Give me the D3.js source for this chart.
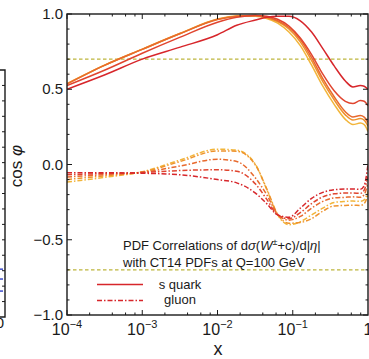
<!DOCTYPE html>
<html>
<head>
<meta charset="utf-8">
<script src="https://cdn.jsdelivr.net/npm/d3@7"></script>
<style>
  body { margin: 0; background: #fff; }
  svg { display: block; font-family: "Liberation Sans", Arial, Helvetica, sans-serif; }
</style>
</head>
<body>
<svg width="369" height="359"></svg>
<script>
// sample points in x (log spaced)
const xPoints = [1e-4, 3.2e-4, 1e-3, 3.2e-3, 1e-2, 1.8e-2, 3.2e-2, 4.5e-2, 6.3e-2, 8.9e-2,
                 0.126, 0.178, 0.251, 0.355, 0.5, 0.63, 0.79, 0.89, 1];

// s quark correlations (solid)
const sQuark1 = [0.50, 0.596, 0.70, 0.78, 0.862, 0.925, 0.96, 0.978, 0.985, 0.985, 0.955, 0.88, 0.77, 0.655, 0.555, 0.515, 0.525, 0.52, 0.50];
const sQuark2 = [0.525, 0.628, 0.739, 0.846, 0.945, 0.978, 0.99, 0.985, 0.965, 0.92, 0.84, 0.73, 0.60, 0.49, 0.42, 0.405, 0.425, 0.42, 0.39];
const sQuark3 = [0.535, 0.66, 0.765, 0.87, 0.963, 0.985, 0.99, 0.98, 0.955, 0.91, 0.83, 0.71, 0.57, 0.45, 0.35, 0.315, 0.325, 0.315, 0.28];
const sQuark4 = [0.535, 0.66, 0.765, 0.87, 0.965, 0.985, 0.99, 0.975, 0.95, 0.90, 0.815, 0.69, 0.55, 0.43, 0.33, 0.295, 0.305, 0.295, 0.255];
const sQuark5 = [0.538, 0.662, 0.767, 0.872, 0.967, 0.987, 0.985, 0.97, 0.94, 0.88, 0.79, 0.66, 0.52, 0.40, 0.30, 0.265, 0.275, 0.265, 0.22];

// gluon correlations (dot-dashed)
const gluon1 = [-0.055, -0.055, -0.058, -0.068, -0.10, -0.122, -0.19, -0.26, -0.335, -0.35, -0.29, -0.225, -0.185, -0.168, -0.163, -0.163, -0.165, -0.14, 0.0];
const gluon2 = [-0.068, -0.06, -0.053, -0.04, -0.035, -0.045, -0.13, -0.23, -0.335, -0.36, -0.32, -0.26, -0.215, -0.195, -0.19, -0.19, -0.192, -0.17, -0.07];
const gluon3 = [-0.083, -0.067, -0.052, -0.01, 0.035, 0.02, -0.09, -0.20, -0.33, -0.37, -0.345, -0.29, -0.245, -0.222, -0.218, -0.215, -0.218, -0.20, -0.12];
const gluon4 = [-0.10, -0.075, -0.05, 0.02, 0.09, 0.088, -0.005, -0.16, -0.33, -0.39, -0.385, -0.36, -0.31, -0.275, -0.272, -0.27, -0.272, -0.26, -0.20];
const gluon5 = [-0.117, -0.085, -0.048, 0.03, 0.102, 0.095, 0.0, -0.165, -0.335, -0.40, -0.38, -0.335, -0.29, -0.252, -0.245, -0.243, -0.245, -0.235, -0.18];

const seriesColors = ["#d7262b", "#e0452f", "#e86a2e", "#ee922c", "#f2b53a"];

const refLines = [0.7, -0.7];
const yTickValues = [-1, -0.5, 0, 0.5, 1];
const yTickLabels = ["\u22121.0", "\u22120.5", "0.0", "0.5", "1.0"];
const xTickValues = [1e-4, 1e-3, 1e-2, 1e-1, 1];
const xTickExps = ["\u22124", "\u22123", "\u22122", "\u22121", ""];

// neighbouring panel (cut off at the left edge)
const neighborTicks = d3.range(0, 17);
const neighborLevels = [3.1, 2.46, 1.68];

var svg = d3.select("svg");

var x = d3.scaleLog().domain([1e-4, 1]).range([67, 368]);
var y = d3.scaleLinear().domain([-1, 1]).range([315, 14]);

svg.append("clipPath").attr("id", "plotclip")
  .append("rect").attr("x", 67).attr("y", 14).attr("width", 301).attr("height", 301);

var plot = svg.append("g").attr("clip-path", "url(#plotclip)");

var line = d3.line()
    .x(function(d, i) { return x(xPoints[i]); })
    .y(function(d) { return y(d); })
    .curve(d3.curveMonotoneX);

// reference lines at +-0.7
plot.selectAll(".ref")
  .data(refLines)
  .join("line")
    .attr("x1", x(1e-4)).attr("x2", x(1))
    .attr("y1", d => y(d)).attr("y2", d => y(d))
    .attr("stroke", "#bdb53c")
    .attr("stroke-width", 1.2)
    .attr("stroke-dasharray", "3.5,2.5");

var gluons = [gluon1, gluon2, gluon3, gluon4, gluon5];
var quarks = [sQuark1, sQuark2, sQuark3, sQuark4, sQuark5];

// draw from yellow to red so red ends on top
for (let i = 4; i >= 0; i--) {
  plot.append("path")
    .attr("d", line(gluons[i]))
    .attr("fill", "none")
    .attr("stroke", seriesColors[i])
    .attr("stroke-width", 1.5)
    .attr("stroke-dasharray", "5,2,1.5,2");
}
for (let i = 4; i >= 0; i--) {
  plot.append("path")
    .attr("d", line(quarks[i]))
    .attr("fill", "none")
    .attr("stroke", seriesColors[i])
    .attr("stroke-width", 1.5);
}

// frame
svg.append("rect")
  .attr("x", 67).attr("y", 14).attr("width", 301).attr("height", 301)
  .attr("fill", "none").attr("stroke", "#1a1a1a").attr("stroke-width", 1.4);

// y ticks (left and right)
var yMinor = d3.range(-10, 11).map(d => d / 10);
var ticks = svg.append("g").attr("stroke", "#1a1a1a").attr("stroke-width", 1);
yMinor.forEach(function(v) {
  var len = (Math.abs(Math.round(v * 10)) % 5 === 0) ? 5 : 2.5;
  ticks.append("line").attr("x1", 67).attr("x2", 67 + len).attr("y1", y(v)).attr("y2", y(v));
  ticks.append("line").attr("x1", 368).attr("x2", 368 - len).attr("y1", y(v)).attr("y2", y(v));
});
// x ticks (bottom and top): decades plus 2,4,6,8
[1e-4, 1e-3, 1e-2, 1e-1].forEach(function(dec) {
  [1, 2, 4, 6, 8].forEach(function(k) {
    var len = k === 1 ? 5 : 2.5;
    var px = x(dec * k);
    ticks.append("line").attr("x1", px).attr("x2", px).attr("y1", 315).attr("y2", 315 - len);
    ticks.append("line").attr("x1", px).attr("x2", px).attr("y1", 14).attr("y2", 14 + len);
  });
});

// y tick labels
svg.selectAll(".ylab")
  .data(yTickValues)
  .join("text")
    .attr("x", 63)
    .attr("y", d => y(d) + 5)
    .attr("text-anchor", "end")
    .style("font-size", "15px")
    .attr("fill", "#1a1a1a")
    .text((d, i) => yTickLabels[i]);

// x tick labels with superscripts
xTickValues.forEach(function(v, i) {
  var t = svg.append("text")
    .attr("x", x(v))
    .attr("y", 335)
    .attr("text-anchor", "middle")
    .attr("fill", "#1a1a1a")
    .style("font-size", "16px");
  if (xTickExps[i] === "") {
    t.text("1");
  } else {
    t.append("tspan").text("10");
    t.append("tspan").attr("dy", -7).style("font-size", "11px").text(xTickExps[i]);
  }
});

// axis titles
svg.append("text")
  .attr("x", 218).attr("y", 355)
  .attr("text-anchor", "middle")
  .style("font-size", "18px")
  .attr("fill", "#1a1a1a")
  .text("x");

var ylab = svg.append("text")
  .attr("transform", "translate(22,166) rotate(-90)")
  .attr("text-anchor", "middle")
  .style("font-size", "17px")
  .attr("fill", "#1a1a1a");
ylab.append("tspan").text("cos ");
ylab.append("tspan").style("font-style", "italic").text("\u03c6");

// legend
var leg1 = svg.append("text").attr("x", 123).attr("y", 250).style("font-size", "13px").attr("fill", "#1a1a1a");
leg1.append("tspan").text("PDF Correlations of d");
leg1.append("tspan").style("font-style", "italic").text("\u03c3");
leg1.append("tspan").text("(");
leg1.append("tspan").style("font-style", "italic").text("W");
leg1.append("tspan").attr("dy", -5).style("font-size", "9px").text("\u00b1");
leg1.append("tspan").attr("dy", 5).text("+c)/d|");
leg1.append("tspan").style("font-style", "italic").text("\u03b7");
leg1.append("tspan").text("|");

svg.append("text").attr("x", 123).attr("y", 267).style("font-size", "13px").attr("fill", "#1a1a1a")
  .text("with CT14 PDFs at Q=100 GeV");

svg.append("line").attr("x1", 97).attr("x2", 143).attr("y1", 284.5).attr("y2", 284.5)
  .attr("stroke", seriesColors[0]).attr("stroke-width", 1.5);
svg.append("line").attr("x1", 97).attr("x2", 143).attr("y1", 300.5).attr("y2", 300.5)
  .attr("stroke", seriesColors[0]).attr("stroke-width", 1.5).attr("stroke-dasharray", "5,2,1.5,2");
svg.append("text").attr("x", 180).attr("y", 289).attr("text-anchor", "middle")
  .style("font-size", "13px").attr("fill", "#1a1a1a").text("s quark");
svg.append("text").attr("x", 180).attr("y", 304).attr("text-anchor", "middle")
  .style("font-size", "13px").attr("fill", "#1a1a1a").text("gluon");

// neighbouring panel piece on the far left
var ny = d3.scaleLinear().domain([0, 16]).range([317, 70]);
var nb = svg.append("g");
nb.append("path")
  .attr("d", "M-5," + ny(16) + "H5V" + ny(0) + "H-5")
  .attr("fill", "none").attr("stroke", "#1a1a1a").attr("stroke-width", 1.4);
nb.selectAll(".nt")
  .data(neighborTicks.slice(1, 16))
  .join("line")
    .attr("x1", 5).attr("x2", 2)
    .attr("y1", d => ny(d)).attr("y2", d => ny(d))
    .attr("stroke", "#1a1a1a").attr("stroke-width", 1);
nb.selectAll(".nl")
  .data(neighborLevels)
  .join("line")
    .attr("x1", 0).attr("x2", 5)
    .attr("y1", d => ny(d)).attr("y2", d => ny(d))
    .attr("stroke", "#2030c0").attr("stroke-width", 1.3)
    .attr("stroke-dasharray", "3,2");
nb.append("text").attr("x", 0).attr("y", 328).attr("text-anchor", "middle")
  .style("font-size", "15px").attr("fill", "#1a1a1a").text("0");
</script>
</body>
</html>
